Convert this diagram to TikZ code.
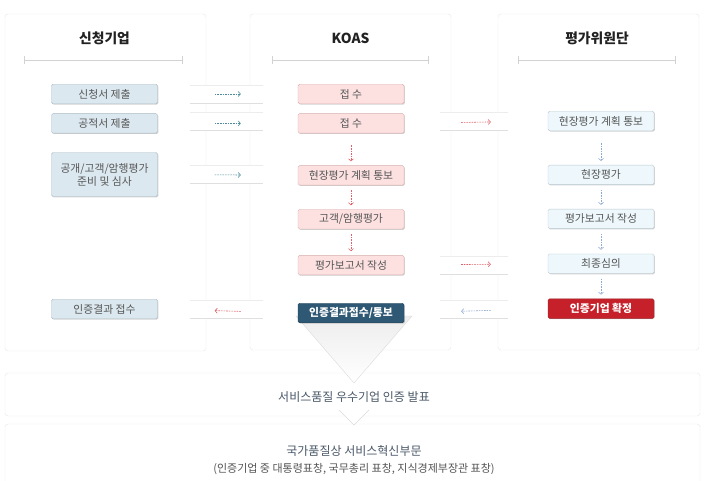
\documentclass[tikz,border=0pt]{standalone}
\usepackage{fontspec}
\setmainfont{Noto Sans CJK KR}
\usetikzlibrary{positioning,arrows.meta,shadows}
\definecolor{txtc}{HTML}{555555}
\definecolor{headc}{HTML}{222222}
\definecolor{slate}{HTML}{4A5868}
\definecolor{firmfill}{HTML}{DCE8EF}
\definecolor{firmline}{HTML}{A9B9C3}
\definecolor{koasfill}{HTML}{FDE1E1}
\definecolor{koasline}{HTML}{D8AEAE}
\definecolor{juryfill}{HTML}{EEF8FC}
\definecolor{juryline}{HTML}{B9C9D1}
\definecolor{darkfill}{HTML}{2E5873}
\definecolor{redfill}{HTML}{C6212A}
\definecolor{tealarr}{HTML}{4E8C9B}
\definecolor{redarr}{HTML}{E2626A}
\definecolor{bluearr}{HTML}{8FAAD2}
\begin{document}
\begin{tikzpicture}[x=1pt, y=-1pt,
    panel/.style = {draw=gray!18, fill=white, rounded corners=3pt},
    head/.style = {font=\fontsize{13.8}{15}\selectfont\bfseries, text=headc},
    rule/.style = {draw=gray!35, line width=0.6pt, {Bar[width=8pt]}-{Bar[width=8pt]}},
    box/.style = {draw, rounded corners=1.5pt, minimum width=106pt, minimum height=19.5pt,
      inner sep=0pt, font=\fontsize{10.8}{13}\selectfont, text=txtc, align=center,
      drop shadow={shadow xshift=0.8pt, shadow yshift=-0.8pt, fill=black, opacity=0.18}},
    firm/.style = {box, fill=firmfill, draw=firmline},
    koas/.style = {box, fill=koasfill, draw=koasline},
    jury/.style = {box, fill=juryfill, draw=juryline},
    link/.style = {line width=0.6pt, dash pattern=on 1.6pt off 1pt,
      -{Straight Barb[length=2.2pt, width=5pt]}},
    across/.style = {link, shorten <=57pt, shorten >=57pt},
    down/.style = {link, shorten <=5pt, shorten >=4pt},
    last/.style = {font=\fontsize{12}{14}\selectfont, text=slate}
  ]
  \useasboundingbox (0,0) rectangle (707,480);
  \clip (0,0) rectangle (707,480);
  \fill[white] (0,0) rectangle (707,480);
  % panels
  \draw[panel] (5,14) rectangle (206,351);
  \draw[panel] (250,14) rectangle (451,350);
  \draw[panel] (498,14) rectangle (699,350);
  \node[head] (hfirm) at (104.5,38) {신청기업};
  \node[head] (hkoas) at (350.5,38) {KOAS};
  \node[head] (hjury) at (597,38) {평가위원단};
  \draw[rule] (24,60) -- (183,60);
  \draw[rule] (272,60) -- (429,60);
  \draw[rule] (518,60) -- (676,60);
  % bands between panels
  \foreach \ya/\yb in {85/103,112/130,165/183,300/318} {
    \fill[white] (190,\ya) rectangle (263,\yb);
    \draw[gray!15] (190,\ya) -- (263,\ya);
    \draw[gray!25] (190,\yb) -- (263,\yb);
  }
  \foreach \ya/\yb in {112/130,256/274,300/318} {
    \fill[white] (440,\ya) rectangle (508,\yb);
    \draw[gray!15] (440,\ya) -- (508,\ya);
    \draw[gray!25] (440,\yb) -- (508,\yb);
  }
  % bottom boxes
  \draw[panel] (5,373) rectangle (700,416);
  \draw[panel] (5,424) rectangle (700,495);
  \filldraw[fill=white, draw=gray!28] (339,410) -- (354,425) -- (369,410);
  \shade[top color=gray!14, bottom color=white, draw=gray!28] (296,316) -- (412,316) -- (354,383) -- cycle;
  % firm column
  \node[firm] (l1) at (104.5,94) {신청서 제출};
  \node[firm] (l2) [below=9.5pt of l1] {공적서 제출};
  \node[firm, minimum height=44pt] (l3) at (104.5,174.5) {공개/고객/암행평가\\준비 및 심사};
  \node[firm] (l4) at (104.5,309) {인증결과 접수};
  % koas column
  \node[koas] (m1) at (351,94) {접 수};
  \node[koas] (m2) [below=9.5pt of m1] {접 수};
  \node[koas] (m3) [below=32pt of m2] {현장평가 계획 통보};
  \node[koas] (m4) [below=24pt of m3] {고객/암행평가};
  \node[koas] (m5) [below=26pt of m4] {평가보고서 작성};
  \node[box, fill=darkfill, draw=darkfill!80!black, text=white, font=\fontsize{10.8}{13}\selectfont\bfseries] (m6) [below=28pt of m5] {인증결과접수/통보};
  % jury column
  \node[jury] (r1) at (601,121) {현장평가 계획 통보};
  \node[jury] (r2) [below=34pt of r1] {현장평가};
  \node[jury] (r3) [below=24pt of r2] {평가보고서 작성};
  \node[jury] (r4) [below=25pt of r3] {최종심의};
  \node[box, fill=redfill, draw=redfill!80!black, text=white, font=\fontsize{10.8}{13}\selectfont\bfseries] (r5) [below=25pt of r4] {인증기업 확정};
  % results
  \node[last] (award) at (354,397) {서비스품질 우수기업 인증 발표};
  \node[last] (prize) at (354,451) {국가품질상 서비스혁신부문};
  \node[font=\fontsize{11}{13}\selectfont, text=txtc] (note) at (354,469) {(인증기업 중 대통령표창, 국무총리 표창, 지식경제부장관 표창)};
  %
  \draw[across, tealarr] (l1.east) -- (m1.west);
  \draw[across, tealarr] (l2.east) -- (m2.west);
  \draw[across, tealarr] (l3.east) -- (m3.west);
  \draw[across, redarr] (m6.west) -- (l4.east);
  \draw[across, redarr] (m2.east) -- (r1.west);
  \draw[across, redarr] (m5.east) -- (r4.west);
  \draw[across, bluearr] (r5.west) -- (m6.east);
  \draw[down, redarr, shorten <=12pt] (m2) -- (m3);
  \draw[down, redarr] (m3) -- (m4);
  \draw[down, redarr] (m4) -- (m5);
  \draw[down, bluearr, shorten <=12pt] (r1) -- (r2);
  \draw[down, bluearr] (r2) -- (r3);
  \draw[down, bluearr] (r3) -- (r4);
  \draw[down, bluearr] (r4) -- (r5);
\end{tikzpicture}
\end{document}
